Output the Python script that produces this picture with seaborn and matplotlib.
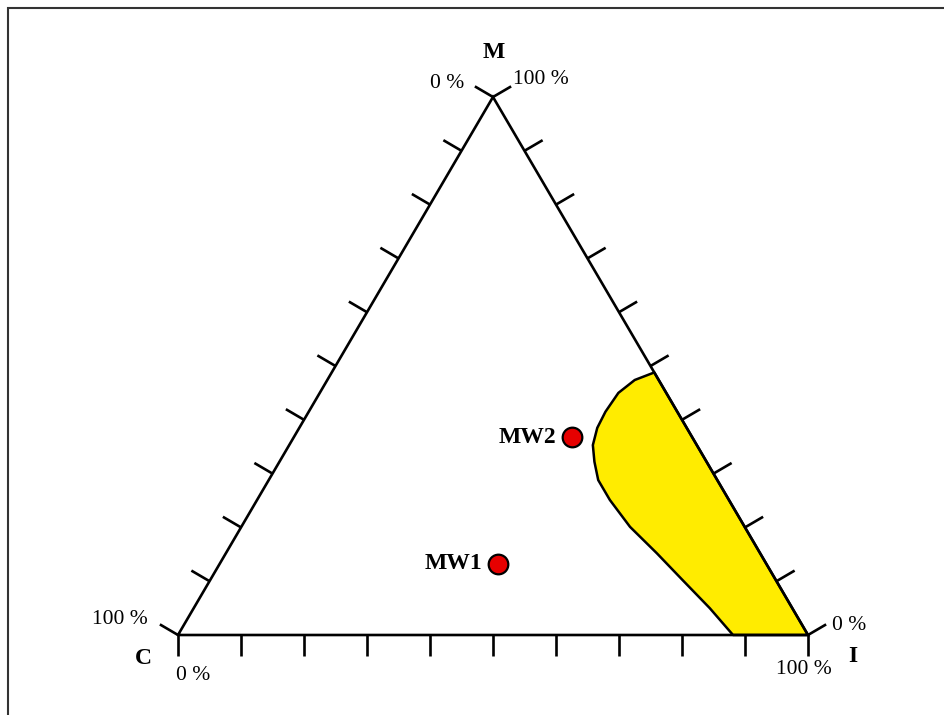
import numpy as np
import matplotlib
matplotlib.use("Agg")
from matplotlib import pyplot as plt
from matplotlib.patches import Rectangle
import seaborn as sns

# ternary data: percentages of C, I, M (C = 100 - I - M)
sample_names = ["MW1", "MW2"]
sample_I = [44.2, 44.1]
sample_M = [13.2, 36.8]

# yellow field boundary (I %, M %)
field_I = [51.2, 48.8, 47.4, 47.1, 47.3, 48.2, 50.0, 52.3, 56.0, 61.7, 68.4, 75.0, 81.9, 88.1, 100.0]
field_M = [48.8, 47.4, 45.0, 41.5, 38.5, 35.3, 32.2, 28.8, 25.1, 20.1, 15.2, 10.2, 5.0, 0.0, 0.0]

tick_values = np.arange(0, 101, 10)
corner_names = ["C", "I", "M"]


def to_xy(i, m):
    i = np.asarray(i, dtype=float)
    m = np.asarray(m, dtype=float)
    return i + m / 2.0, m


sns.set_theme(style="white")
plt.rcParams["font.family"] = ["Liberation Serif", "DejaVu Serif"]
plt.rcParams["text.color"] = "black"

fig = plt.figure(figsize=(9.44, 7.15), dpi=100)
ax = fig.add_axes([178 / 944, 80 / 715, 630 / 944, 538 / 715])
ax.set_xlim(0, 100)
ax.set_ylim(0, 100)
ax.axis("off")

# outer frame (runs off the right and bottom edge)
top = 1 - 7.5 / 715
fig.patches.append(Rectangle((7.5 / 944, -0.05), 1.2, top + 0.05,
                             transform=fig.transFigure, fill=False,
                             edgecolor="#333333", lw=1.5))

# yellow field
fx, fy = to_xy(field_I, field_M)
ax.fill(fx, fy, facecolor="#ffec00", edgecolor="black", lw=1.8, zorder=2,
        joinstyle="round", clip_on=False)

# triangle
cx, cy = to_xy([0, 100, 0, 0], [0, 0, 100, 0])
ax.plot(cx, cy, color="black", lw=1.9, zorder=3, clip_on=False, solid_joinstyle="miter")


def draw_ticks(p0, p1, normal_px, length_px=21):
    # p0, p1 are (I, M) of edge ends; ticks every 10 % from p0 to p1
    for t in tick_values / 100.0:
        i = p0[0] + (p1[0] - p0[0]) * t
        m = p0[1] + (p1[1] - p0[1]) * t
        x, y = to_xy(i, m)
        dx, dy = ax.transData.transform((x, y))
        ex, ey = ax.transData.inverted().transform(
            (dx + normal_px[0] * length_px, dy + normal_px[1] * length_px))
        ax.plot([x, ex], [y, ey], color="black", lw=1.9, zorder=3,
                clip_on=False, solid_capstyle="butt")


fig.canvas.draw()
# pixel-space outward normals of each edge
pC = ax.transData.transform(to_xy(0, 0))
pI = ax.transData.transform(to_xy(100, 0))
pM = ax.transData.transform(to_xy(0, 100))


def outward(a, b):
    d = np.array(b) - np.array(a)
    d = d / np.hypot(*d)
    return np.array([-d[1], d[0]])


draw_ticks((0, 0), (100, 0), outward(pI, pC))    # bottom: C -> I
draw_ticks((0, 0), (0, 100), outward(pC, pM))    # left: C -> M
draw_ticks((100, 0), (0, 100), outward(pM, pI))  # right: I -> M

# samples
sx, sy = to_xy(sample_I, sample_M)
sns.scatterplot(x=sx, y=sy, ax=ax, s=200, color="#e60000", edgecolor="black",
                linewidth=1.6, zorder=5, clip_on=False, legend=False)
for name, x, y in zip(sample_names, sx, sy):
    ax.annotate(name, (x, y), xytext=(-16, 0), textcoords="offset pixels",
                ha="right", va="center", fontsize=17, fontweight="bold",
                color="black")


# corner labels in pixel coordinates of the figure
def ftext(px, py, s, **kw):
    fig.text(px / 944, 1 - py / 715, s, ha="center", va="center",
             color="black", **kw)


pct = 15.5
big = 17
ftext(494, 53, corner_names[2], fontsize=big, fontweight="bold")
ftext(447, 83, "0 %", fontsize=pct)
ftext(541, 79, "100 %", fontsize=pct)
ftext(120, 619, "100 %", fontsize=pct)
ftext(143, 658, corner_names[0], fontsize=big, fontweight="bold")
ftext(193, 676, "0 %", fontsize=pct)
ftext(849, 625, "0 %", fontsize=pct)
ftext(853, 656, corner_names[1], fontsize=big, fontweight="bold")
ftext(804, 669, "100 %", fontsize=pct)

fig.savefig("out.png", dpi=100, facecolor="white")
